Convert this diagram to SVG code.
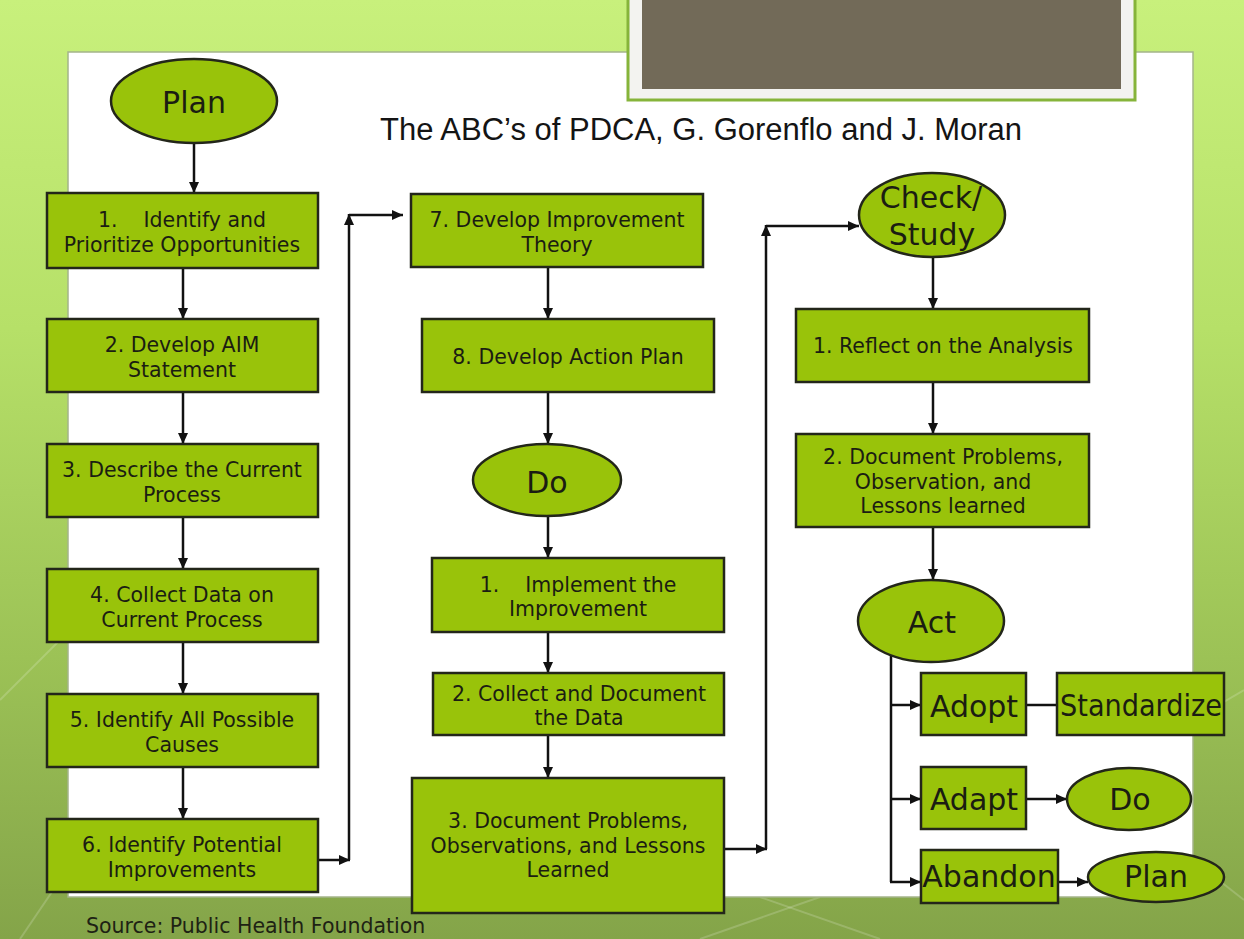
<svg xmlns="http://www.w3.org/2000/svg" width="1244" height="939" viewBox="0 0 1244 939">
<defs>
<linearGradient id="bg" x1="0" y1="0" x2="0" y2="1">
<stop offset="0" stop-color="#c8f07c"/>
<stop offset="0.35" stop-color="#b6e068"/>
<stop offset="0.7" stop-color="#9cc256"/>
<stop offset="1" stop-color="#84a449"/>
</linearGradient>
<marker id="ah" markerUnits="userSpaceOnUse" markerWidth="11" markerHeight="10" refX="11" refY="5" orient="auto">
<path d="M0,0 L11,5 L0,10 z" fill="#111"/>
</marker>
<style>
.box{fill:#99c30a;stroke:#23261a;stroke-width:2.5}
.t{font-family:"DejaVu Sans",Verdana,sans-serif;font-size:20.5px;fill:#1b1d12;text-anchor:middle;white-space:pre}
.big{font-family:"DejaVu Sans",Verdana,sans-serif;font-size:30px;fill:#1b1d12;text-anchor:middle}
.c{fill:none;stroke:#111;stroke-width:2.5}
.a{marker-end:url(#ah)}
</style>
</defs>
<rect x="0" y="0" width="1244" height="939" fill="url(#bg)"/>
<g stroke="#ffffff" stroke-opacity="0.18" stroke-width="2" fill="none">
<path d="M0,700 L60,640"/>
<path d="M20,939 L60,880"/>
<path d="M700,939 L820,897"/>
<path d="M760,897 L880,939"/>
<path d="M1193,720 L1244,690"/>
<path d="M1193,860 L1244,900"/>
</g>
<rect x="68" y="52" width="1125" height="845" fill="#ffffff" stroke="#a4b48a" stroke-width="1.5"/>
<g id="header-box">
<rect x="628" y="-4" width="507" height="104" fill="#f3f3f0" stroke="#86b43a" stroke-width="3"/>
<rect x="642" y="-4" width="479" height="93" fill="#726a58"/>
</g>
<text id="title" x="380" y="140" font-family="'Liberation Sans',Arial,sans-serif" font-size="31" fill="#141414">The ABC’s of PDCA, G. Gorenflo and J. Moran</text>
<text id="source" x="86" y="933" font-family="'DejaVu Sans',Verdana,sans-serif" font-size="20.5" fill="#1e2214">Source: Public Health Foundation</text>

<g id="connectors">
<path class="c a" d="M194,143 V193"/>
<path class="c a" d="M183,268 V319"/>
<path class="c a" d="M183,392 V444"/>
<path class="c a" d="M183,517 V569"/>
<path class="c a" d="M183,642 V694"/>
<path class="c a" d="M183,767 V819"/>
<path class="c a" d="M318,860 H350"/>
<path class="c a" d="M349,860 V214"/>
<path class="c a" d="M349,215 H403"/>
<path class="c a" d="M548,267 V319"/>
<path class="c a" d="M548,392 V444"/>
<path class="c a" d="M548,517 V558"/>
<path class="c a" d="M548,632 V673"/>
<path class="c a" d="M548,735 V778"/>
<path class="c a" d="M724,849 H767"/>
<path class="c a" d="M766,849 V225"/>
<path class="c a" d="M766,226 H859"/>
<path class="c a" d="M933,257 V309"/>
<path class="c a" d="M933,382 V434"/>
<path class="c a" d="M933,527 V580"/>
<path class="c" d="M891,652 V882"/>
<path class="c a" d="M890,705 H921"/>
<path class="c a" d="M890,799 H921"/>
<path class="c a" d="M890,882 H921"/>
<path class="c" d="M1026,705 H1057"/>
<path class="c a" d="M1026,799 H1067"/>
<path class="c a" d="M1058,882 H1088"/>
</g>

<g id="plan-start">
<ellipse class="box" cx="194" cy="101" rx="83" ry="42"/>
<text class="big" x="194" y="113">Plan</text>
</g>
<g id="p1">
<rect class="box" x="47" y="193" width="271" height="75"/>
<text class="t" x="182" y="227">1.    Identify and</text>
<text class="t" x="182" y="252">Prioritize Opportunities</text>
</g>
<g id="p2">
<rect class="box" x="47" y="319" width="271" height="73"/>
<text class="t" x="182" y="352">2. Develop AIM</text>
<text class="t" x="182" y="376.5">Statement</text>
</g>
<g id="p3">
<rect class="box" x="47" y="444" width="271" height="73"/>
<text class="t" x="182" y="477">3. Describe the Current</text>
<text class="t" x="182" y="501.5">Process</text>
</g>
<g id="p4">
<rect class="box" x="47" y="569" width="271" height="73"/>
<text class="t" x="182" y="602">4. Collect Data on</text>
<text class="t" x="182" y="626.5">Current Process</text>
</g>
<g id="p5">
<rect class="box" x="47" y="694" width="271" height="73"/>
<text class="t" x="182" y="727">5. Identify All Possible</text>
<text class="t" x="182" y="751.5">Causes</text>
</g>
<g id="p6">
<rect class="box" x="47" y="819" width="271" height="73"/>
<text class="t" x="182" y="852">6. Identify Potential</text>
<text class="t" x="182" y="876.5">Improvements</text>
</g>
<g id="p7">
<rect class="box" x="411" y="194" width="292" height="73"/>
<text class="t" x="557" y="227">7. Develop Improvement</text>
<text class="t" x="557" y="252">Theory</text>
</g>
<g id="p8">
<rect class="box" x="422" y="319" width="292" height="73"/>
<text class="t" x="568" y="364">8. Develop Action Plan</text>
</g>
<g id="do">
<ellipse class="box" cx="547" cy="480" rx="74" ry="36"/>
<text class="big" x="547" y="493" font-size="31">Do</text>
</g>
<g id="d1">
<rect class="box" x="432" y="558" width="292" height="74"/>
<text class="t" x="578" y="591.5">1.    Implement the</text>
<text class="t" x="578" y="616">Improvement</text>
</g>
<g id="d2">
<rect class="box" x="433" y="673" width="291" height="62"/>
<text class="t" x="579" y="700.5">2. Collect and Document</text>
<text class="t" x="579" y="725">the Data</text>
</g>
<g id="d3">
<rect class="box" x="412" y="778" width="312" height="135"/>
<text class="t" x="568" y="828">3. Document Problems,</text>
<text class="t" x="568" y="852.5">Observations, and Lessons</text>
<text class="t" x="568" y="877">Learned</text>
</g>
<g id="check">
<ellipse class="box" cx="932" cy="215" rx="73" ry="42"/>
<text class="big" x="931" y="208">Check/</text>
<text class="big" x="932" y="245">Study</text>
</g>
<g id="c1">
<rect class="box" x="796" y="309" width="293" height="73"/>
<text class="t" x="943" y="353">1. Reflect on the Analysis</text>
</g>
<g id="c2">
<rect class="box" x="796" y="434" width="293" height="93"/>
<text class="t" x="943" y="464">2. Document Problems,</text>
<text class="t" x="943" y="488.5">Observation, and</text>
<text class="t" x="943" y="513">Lessons learned</text>
</g>
<g id="act">
<ellipse class="box" cx="931" cy="621" rx="73" ry="41"/>
<text class="big" x="932" y="633" font-size="29">Act</text>
</g>
<g id="adopt">
<rect class="box" x="921" y="673" width="105" height="62"/>
<text class="big" x="974" y="717">Adopt</text>
</g>
<g id="standardize">
<rect class="box" x="1057" y="673" width="167" height="62"/>
<text class="big" x="1141" y="716" font-size="28" textLength="162" lengthAdjust="spacingAndGlyphs">Standardize</text>
</g>
<g id="adapt">
<rect class="box" x="921" y="767" width="105" height="62"/>
<text class="big" x="974" y="810">Adapt</text>
</g>
<g id="do2">
<ellipse class="box" cx="1129" cy="799" rx="62" ry="31"/>
<text class="big" x="1130" y="810" font-size="29">Do</text>
</g>
<g id="abandon">
<rect class="box" x="921" y="850" width="137" height="53"/>
<text class="big" x="989" y="887">Abandon</text>
</g>
<g id="plan2">
<ellipse class="box" cx="1156" cy="877" rx="68" ry="25"/>
<text class="big" x="1156" y="887">Plan</text>
</g>
</svg>
